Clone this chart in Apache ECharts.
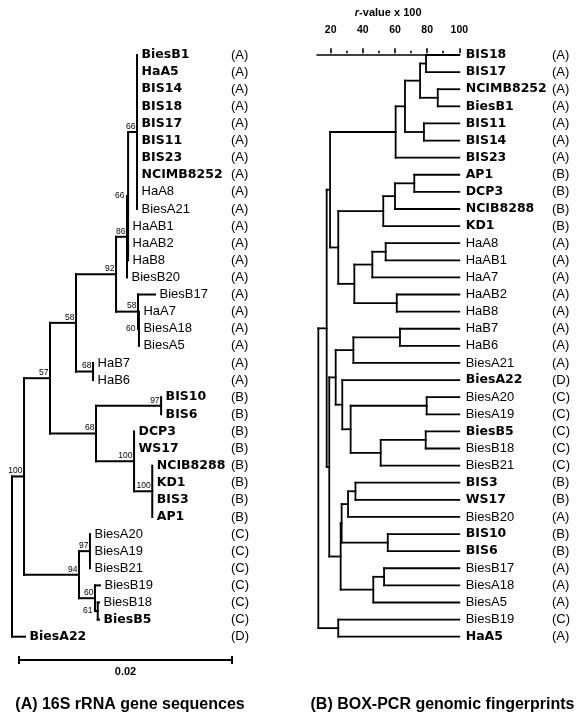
<!DOCTYPE html>
<html><head><meta charset="utf-8">
<script src="https://cdn.jsdelivr.net/npm/echarts@6/dist/echarts.min.js"></script>
<style>html,body{margin:0;padding:0;background:#fff}#c{width:588px;height:719px}</style>
</head><body><div id="c"></div>
<script>
// ===== (A) 16S rRNA gene sequence tree (distances in 0.001 substitutions/site) =====
const treeATips = ['BiesB1','HaA5','BIS14','BIS18','BIS17','BIS11','BIS23','NCIMB8252','HaA8','BiesA21',
  'HaAB1','HaAB2','HaB8','BiesB20','BiesB17','HaA7','BiesA18','BiesA5','HaB7','HaB6',
  'BIS10','BIS6','DCP3','WS17','NCIB8288','KD1','BIS3','AP1',
  'BiesA20','BiesA19','BiesB21','BiesB19','BiesB18','BiesB5','BiesA22'];
const treeAGroups = ['A','A','A','A','A','A','A','A','A','A','A','A','A','A','A','A','A','A','A','A',
  'B','B','B','B','B','B','B','B','C','C','C','C','C','C','D'];
const treeABold = [1,1,1,1,1,1,1,1,0,0,0,0,0,0,0,0,0,0,0,0,1,1,1,1,1,1,1,1,0,0,0,0,0,1,1];
const treeATipDist = [11.74,11.74,11.74,11.74,11.74,11.74,11.74,11.74,11.74,11.74,
  10.9,10.9,10.9,10.8,13.43,11.92,11.92,11.92,7.61,7.61,
  14.0,14.0,11.46,11.46,13.17,13.17,13.17,13.17,
  7.32,7.32,7.32,8.26,8.17,8.17,1.22];
// [node, distance, bootstrap, children]
const treeANodes = [
  ['n66a', 11.74, 66, [0,1,2,3,4,5,6,7,8,9]],
  ['n66b', 10.9, 66, ['n66a',10,11,12]],
  ['n86', 10.8, 86, ['n66b',13]],
  ['n60', 11.92, 60, [15,16,17]],
  ['n58b', 11.83, 58, [14,'n60']],
  ['n92', 9.77, 92, ['n86','n58b']],
  ['n68a', 7.61, 68, [18,19]],
  ['n58', 6.01, 58, ['n92','n68a']],
  ['n97', 14.0, 97, [20,21]],
  ['n100b', 13.17, 100, [24,25,26,27]],
  ['n100a', 11.46, 100, [22,23,'n100b']],
  ['n68b', 7.89, 68, ['n97','n100a']],
  ['n57', 3.57, 57, ['n58','n68b']],
  ['n97c', 7.32, 97, [28,29,30]],
  ['n61', 8.05, 61, [32,33]],
  ['n60c', 7.79, 60, [31,'n61']],
  ['n94', 6.29, 94, ['n97c','n60c']],
  ['n100', 1.13, 100, ['n57','n94']],
  ['root', 0, null, ['n100',34]]
];
const scaleBarLength = 20;   // = 0.02 substitutions/site
const scaleBarLabel = '0.02';
const titleA = '(A) 16S rRNA gene sequences';

// ===== (B) BOX-PCR genomic fingerprint dendrogram (r-value x 100) =====
const treeBTips = ['BIS18','BIS17','NCIMB8252','BiesB1','BIS11','BIS14','BIS23','AP1','DCP3','NCIB8288','KD1',
  'HaA8','HaAB1','HaA7','HaAB2','HaB8','HaB7','HaB6','BiesA21','BiesA22','BiesA20','BiesA19','BiesB5','BiesB18','BiesB21',
  'BIS3','WS17','BiesB20','BIS10','BIS6','BiesB17','BiesA18','BiesA5','BiesB19','HaA5'];
const treeBGroups = ['A','A','A','A','A','A','A','B','B','B','B','A','A','A','A','A','A','A','A','D','C','C','C','C','C',
  'B','B','A','B','B','A','A','A','C','A'];
const treeBBold = [1,1,1,1,1,1,1,1,1,1,1,0,0,0,0,0,0,0,0,1,0,0,1,0,0,1,1,0,1,1,0,0,0,0,1];
// [node, r-value x 100, children]
const treeBNodes = [
  ['r1', 79.3, [0,1]], ['r2', 86.6, [2,3]], ['r3', 75.6, ['r1','r2']], ['r4', 78.0, [4,5]],
  ['r5', 66.2, ['r3','r4']], ['r6', 60.4, ['r5',6]],
  ['r7', 72.0, [7,8]], ['r8', 60.0, ['r7',9]], ['r9', 52.7, ['r8',10]],
  ['r10', 54.2, [11,12]], ['r11', 45.9, ['r10',13]], ['r12', 61.1, [14,15]], ['r13', 34.7, ['r11','r12']],
  ['r14', 24.7, ['r9','r13']], ['r15', 19.6, ['r6','r14']],
  ['r16', 63.1, [16,17]], ['r17', 34.1, ['r16',18]],
  ['r18', 79.7, [20,21]], ['r19', 79.1, [22,23]], ['r20', 51.1, ['r19',24]], ['r21', 32.4, ['r18','r20']],
  ['r22', 27.2, [19,'r21']], ['r23', 23.1, ['r17','r22']],
  ['r24', 35.4, [25,26]], ['r25', 30.8, ['r24',27]], ['r26', 55.5, [28,29]], ['r27', 26.8, ['r25','r26']],
  ['r28', 53.2, [30,31]], ['r29', 46.5, ['r28',32]], ['r30', 26.2, ['r27','r29']],
  ['r31', 19.1, ['r23','r30']], ['r32', 17.5, ['r15','r31']],
  ['r33', 24.7, [33,34]], ['rootB', 12.3, ['r32','r33']]
];
const rTicks = [20, 40, 60, 80, 100];
const rAxisName = 'r-value x 100';
const titleB = '(B) BOX-PCR genomic fingerprints';

// ===== layout helpers =====
function buildTree(tipDist, nodes) {
  const pos = {}, parent = {};
  tipDist.forEach((d, i) => { pos[i] = { x: d, y: i }; });
  const segs = [];
  nodes.forEach(n => {
    const name = n[0], x = n[1], kids = n[n.length - 1];
    const boot = n.length === 4 ? n[2] : null;
    const ys = kids.map(k => pos[k].y);
    const y0 = Math.min.apply(null, ys), y1 = Math.max.apply(null, ys);
    pos[name] = { x: x, y: (y0 + y1) / 2, boot: boot };
    kids.forEach(k => { parent[k] = name; });
    segs.push([x, y0, x, y1]);
    kids.forEach(k => { if (pos[k].x > x + 1e-9) segs.push([x, pos[k].y, pos[k].x, pos[k].y]); });
  });
  const boots = [];
  nodes.forEach(n => {
    const p = pos[n[0]];
    if (p.boot != null && parent[n[0]] != null) boots.push({ x: p.x, y: p.y, px: pos[parent[n[0]]].x, text: String(p.boot) });
  });
  return { segs, boots };
}
const A = buildTree(treeATipDist, treeANodes);
const B = buildTree(treeBTips.map(() => 100), treeBNodes);

const PLAIN = { size: 13, family: 'Liberation Sans', weight: 'normal' };
const BOLD = { size: 12.5, family: 'DejaVu Sans', weight: 'bold' };
function txt(x, y, text, f, align, v) {
  return { type: 'text', x: x, y: y, silent: true,
    style: { text: text, fill: '#000', fontSize: f.size, fontFamily: f.family, fontWeight: f.weight,
      align: align || 'left', verticalAlign: v || 'middle', textAlign: align || 'left', textVerticalAlign: v || 'middle' } };
}
function lineSeries(idx, segs, lw) {
  return { type: 'custom', xAxisIndex: idx, yAxisIndex: idx, clip: false, silent: true, animation: false,
    data: segs,
    renderItem: function (p, api) {
      const a = api.coord([api.value(0), api.value(1)]), b = api.coord([api.value(2), api.value(3)]);
      return { type: 'line', shape: { x1: a[0], y1: a[1], x2: b[0], y2: b[1] },
        style: { stroke: '#000', lineWidth: lw, lineCap: 'square' } };
    } };
}
function labelSeries(idx, tips, groups, bold, tipX, tipGap, groupPx, boots) {
  const items = [];
  tips.forEach((t, i) => items.push({ kind: 'tip', x: tipX[i], y: i, text: t, bold: bold[i] }));
  groups.forEach((g, i) => items.push({ kind: 'grp', x: tipX[i], y: i, text: '(' + g + ')' }));
  boots.forEach(b => items.push({ kind: 'boot', x: b.x, y: b.y, px: b.px, text: b.text }));
  return { type: 'custom', xAxisIndex: idx, yAxisIndex: idx, clip: false, silent: true, animation: false,
    data: items.map(d => [d.x, d.y]),
    renderItem: function (p, api) {
      const d = items[p.dataIndex];
      const c = api.coord([d.x, d.y]);
      if (d.kind === 'tip') return txt(c[0] + tipGap, c[1], d.text, d.bold ? BOLD : PLAIN, 'left', 'middle');
      if (d.kind === 'grp') return txt(groupPx, c[1], d.text, PLAIN, 'left', 'middle');
      const pc = api.coord([d.px, d.y]);
      const bf = { size: 8.5, family: 'Liberation Sans', weight: 'normal' };
      if (c[0] - pc[0] < 6) return txt(pc[0] - 2.5, c[1], d.text, bf, 'right', 'middle');
      return txt(c[0] - 1.5, c[1] - 1, d.text, bf, 'right', 'bottom');
    } };
}

const scaleBarStart = 0.66, scaleBarRow = 35.36;
const scaleSeries = { type: 'custom', xAxisIndex: 0, yAxisIndex: 0, clip: false, silent: true, animation: false,
  data: [[scaleBarStart, scaleBarRow, scaleBarStart + scaleBarLength, scaleBarRow]],
  renderItem: function (p, api) {
    const a = api.coord([api.value(0), api.value(1)]), b = api.coord([api.value(2), api.value(3)]);
    const st = { stroke: '#000', lineWidth: 2 };
    return { type: 'group', children: [
      { type: 'line', shape: { x1: a[0], y1: a[1], x2: b[0], y2: b[1] }, style: st },
      { type: 'line', shape: { x1: a[0], y1: a[1] - 4, x2: a[0], y2: a[1] + 4 }, style: st },
      { type: 'line', shape: { x1: b[0], y1: b[1] - 4, x2: b[0], y2: b[1] + 4 }, style: st },
      txt((a[0] + b[0]) / 2, a[1] + 12, scaleBarLabel, { size: 11, family: 'Liberation Sans', weight: 'bold' }, 'center', 'middle')
    ] };
  } };

const rowsTop = 55, rowsHeight = 581.7;
const hidden = { show: false };
const chart = echarts.init(document.getElementById('c'), null, { renderer: 'canvas' });
chart.setOption({
  backgroundColor: '#fff',
  animation: false,
  grid: [
    { left: 12, width: 213, top: rowsTop, height: rowsHeight },
    { left: 317.04, width: 142.26, top: rowsTop, height: rowsHeight },
    { left: 330.7, width: 128.6, top: 43.3, height: 10 }
  ],
  xAxis: [
    { gridIndex: 0, type: 'value', min: 0, max: 20, show: false },
    { gridIndex: 1, type: 'value', min: 11.5, max: 100, position: 'top', offset: 11.7,
      axisLine: { show: true, lineStyle: { color: '#000', width: 1.6 } }, axisTick: hidden, axisLabel: hidden, splitLine: hidden,
      name: '{i|r}' + rAxisName.slice(1), nameLocation: 'middle', nameGap: 25,
      nameTextStyle: { color: '#000', fontSize: 11, fontWeight: 'bold', fontFamily: 'Liberation Sans',
        rich: { i: { fontStyle: 'italic', fontWeight: 'bold', fontSize: 11, fontFamily: 'Liberation Sans', color: '#000' } } } },
    { gridIndex: 2, type: 'value', min: rTicks[0], max: rTicks[rTicks.length - 1], interval: rTicks[1] - rTicks[0], position: 'top',
      axisLine: hidden, splitLine: hidden,
      axisTick: { show: true, length: 5, lineStyle: { color: '#000', width: 1.6 } },
      minorTick: { show: true, splitNumber: 2, length: 2.5, lineStyle: { color: '#000', width: 1.6 } },
      axisLabel: { color: '#000', fontSize: 10.5, fontWeight: 'bold', fontFamily: 'Liberation Sans', margin: 8 } }
  ],
  yAxis: [
    { gridIndex: 0, type: 'value', inverse: true, min: 0, max: treeATips.length - 1, show: false },
    { gridIndex: 1, type: 'value', inverse: true, min: 0, max: treeBTips.length - 1, show: false },
    { gridIndex: 2, type: 'value', show: false }
  ],
  graphic: [
    { type: 'text', x: 130, y: 705, silent: true, style: { text: titleA, fill: '#000', fontSize: 16, fontWeight: 'bold', fontFamily: 'Liberation Sans', align: 'center', verticalAlign: 'middle', textAlign: 'center', textVerticalAlign: 'middle' } },
    { type: 'text', x: 442.5, y: 705, silent: true, style: { text: titleB, fill: '#000', fontSize: 16, fontWeight: 'bold', fontFamily: 'Liberation Sans', align: 'center', verticalAlign: 'middle', textAlign: 'center', textVerticalAlign: 'middle' } }
  ],
  series: [
    lineSeries(0, A.segs, 2),
    labelSeries(0, treeATips, treeAGroups, treeABold, treeATipDist, 4.5, 231, A.boots),
    scaleSeries,
    lineSeries(1, B.segs, 1.8),
    labelSeries(1, treeBTips, treeBGroups, treeBBold, treeBTips.map(() => 100), 6.4, 552, [])
  ]
});
</script>
</body></html>
